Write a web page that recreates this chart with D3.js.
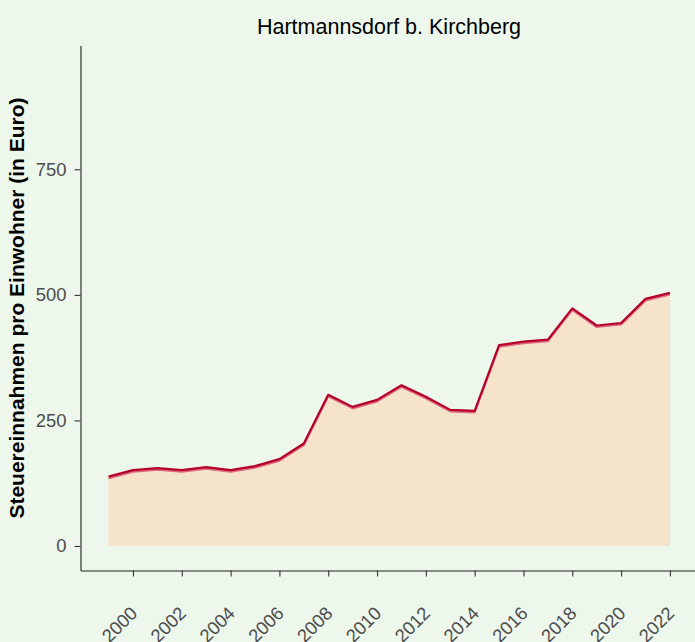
<!DOCTYPE html>
<html>
<head>
<meta charset="utf-8">
<script src="https://cdn.jsdelivr.net/npm/d3@7"></script>
<style>
  body { margin: 0; background: #eef7ec; }
  svg { display: block; font-family: "Liberation Sans", Arial, sans-serif; }
</style>
</head>
<body>
<div id="chart"></div>
<script>
// data
var years = [1999, 2000, 2001, 2002, 2003, 2004, 2005, 2006, 2007, 2008, 2009, 2010,
             2011, 2012, 2013, 2014, 2015, 2016, 2017, 2018, 2019, 2020, 2021, 2022];
var steuer = [138, 151, 155, 151, 157, 151, 159, 173, 204, 301, 277, 291,
              320, 297, 271, 269, 400, 407, 411, 473, 439, 444, 492, 504];
var xTicks = [2000, 2002, 2004, 2006, 2008, 2010, 2012, 2014, 2016, 2018, 2020, 2022];
var yTicks = [0, 250, 500, 750];
var title = "Hartmannsdorf b. Kirchberg";
var yTitle = "Steuereinnahmen pro Einwohner (in Euro)";

var width = 695, height = 642;

var data = years.map(function(y, i) { return {year: y, value: steuer[i]}; });

var svg = d3.select("#chart")
  .append("svg")
  .attr("width", width)
  .attr("height", height);

svg.append("rect")
  .attr("width", width)
  .attr("height", height)
  .attr("fill", "#eef7ec");

// scales (ggplot style 5% expansion on x)
var x = d3.scaleLinear()
  .domain([1997.85, 2023.15])
  .range([80.5, 698]);

var y = d3.scaleLinear()
  .domain([-48.8, 996.5])
  .range([570.5, 45.5]);

// area under the line
var area = d3.area()
  .x(function(d) { return x(d.year); })
  .y0(y(0))
  .y1(function(d) { return y(d.value); });

svg.append("path")
  .datum(data)
  .attr("d", area)
  .attr("fill", "#f6e3cb");

var line = d3.line()
  .x(function(d) { return x(d.year); })
  .y(function(d) { return y(d.value); });

// light shadow under the line
svg.append("path")
  .datum(data)
  .attr("d", line)
  .attr("transform", "translate(0,1.5)")
  .attr("fill", "none")
  .attr("stroke", "#dd6a7c")
  .attr("stroke-width", 2.2)
  .attr("stroke-linejoin", "round");

svg.append("path")
  .datum(data)
  .attr("d", line)
  .attr("fill", "none")
  .attr("stroke", "#b4002b")
  .attr("stroke-width", 2.2)
  .attr("stroke-linejoin", "round");

// axes
var xAxis = svg.append("g")
  .attr("transform", "translate(0,570.5)")
  .call(d3.axisBottom(x).tickValues(xTicks).tickSize(6).tickSizeOuter(0).tickFormat(d3.format("d")));

xAxis.select(".domain").attr("stroke", "#222").attr("stroke-width", 1.1);
xAxis.selectAll(".tick line").attr("stroke", "#333").attr("stroke-width", 1.1);
xAxis.selectAll(".tick text")
  .attr("fill", "#4d4d4d")
  .style("font-size", "18.4px")
  .attr("text-anchor", "end")
  .attr("x", 0)
  .attr("y", 0)
  .attr("dy", null)
  .attr("transform", "translate(5,44) rotate(-45)");

var yAxis = svg.append("g")
  .attr("transform", "translate(80.5,0)")
  .call(d3.axisLeft(y).tickValues(yTicks).tickSize(6).tickSizeOuter(0));

yAxis.select(".domain").attr("stroke", "#222").attr("stroke-width", 1.1);
yAxis.selectAll(".tick line").attr("stroke", "#333").attr("stroke-width", 1.1);
yAxis.selectAll(".tick text")
  .attr("fill", "#4d4d4d")
  .style("font-size", "18.4px")
  .attr("x", -14);

// titles
svg.append("text")
  .attr("x", 389)
  .attr("y", 34)
  .attr("text-anchor", "middle")
  .style("font-size", "21.5px")
  .attr("fill", "#000")
  .text(title);

svg.append("text")
  .attr("transform", "translate(24,308) rotate(-90)")
  .attr("text-anchor", "middle")
  .style("font-size", "21px")
  .style("font-weight", "bold")
  .attr("fill", "#000")
  .text(yTitle);
</script>
</body>
</html>
